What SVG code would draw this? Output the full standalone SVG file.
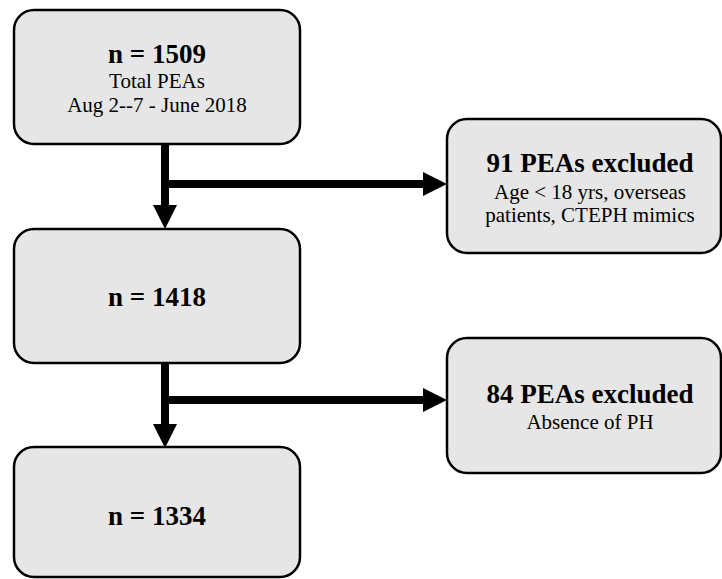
<svg xmlns="http://www.w3.org/2000/svg" width="722" height="579" viewBox="0 0 722 579">
<style>
.box{fill:#e6e6e6;stroke:#000;stroke-width:2.5}
text{font-family:'Liberation Serif','Times New Roman',Tinos,'DejaVu Serif',serif;fill:#000;text-anchor:middle}
.b{font-weight:bold;font-size:27px}
.r{font-size:21px}
.c{stroke:#000;stroke-width:8;fill:none}
</style>
<defs>
<marker id="ah" markerUnits="userSpaceOnUse" markerWidth="24" markerHeight="24" refX="0" refY="12" orient="auto" viewBox="0 0 24 24">
<path d="M0,0 L24,12 L0,24 Z" fill="#000"/>
</marker>
</defs>
<rect width="722" height="579" fill="#fff"/>
<g id="connectors">
<line class="c" x1="165" y1="144" x2="165" y2="205" marker-end="url(#ah)"/>
<line class="c" x1="161" y1="184" x2="423" y2="184" marker-end="url(#ah)"/>
<line class="c" x1="165" y1="363" x2="165" y2="424" marker-end="url(#ah)"/>
<line class="c" x1="161" y1="400" x2="423" y2="400" marker-end="url(#ah)"/>
</g>
<g id="n1509">
<rect class="box" x="14" y="10" width="286" height="134" rx="20"/>
<text class="b" x="157" y="63" font-family="Liberation Serif, serif">n = 1509</text>
<text class="r" x="157" y="88" font-family="Liberation Serif, serif">Total PEAs</text>
<text class="r" x="157" y="112" font-family="Liberation Serif, serif">Aug 2--7 - June 2018</text>
</g>
<g id="excl91">
<rect class="box" x="447" y="119" width="274" height="134" rx="20"/>
<text class="b" x="590" y="172" font-family="Liberation Serif, serif">91 PEAs excluded</text>
<text class="r" x="590" y="199" font-family="Liberation Serif, serif">Age &lt; 18 yrs, overseas</text>
<text class="r" x="590" y="222" font-family="Liberation Serif, serif">patients, CTEPH mimics</text>
</g>
<g id="n1418">
<rect class="box" x="14" y="229" width="286" height="134" rx="20"/>
<text class="b" x="157" y="306" font-family="Liberation Serif, serif">n = 1418</text>
</g>
<g id="excl84">
<rect class="box" x="447" y="338" width="274" height="135" rx="20"/>
<text class="b" x="590" y="403" font-family="Liberation Serif, serif">84 PEAs excluded</text>
<text class="r" x="590" y="429" font-family="Liberation Serif, serif">Absence of PH</text>
</g>
<g id="n1334">
<rect class="box" x="14" y="447" width="286" height="130" rx="20"/>
<text class="b" x="157" y="525" font-family="Liberation Serif, serif">n = 1334</text>
</g>
</svg>
